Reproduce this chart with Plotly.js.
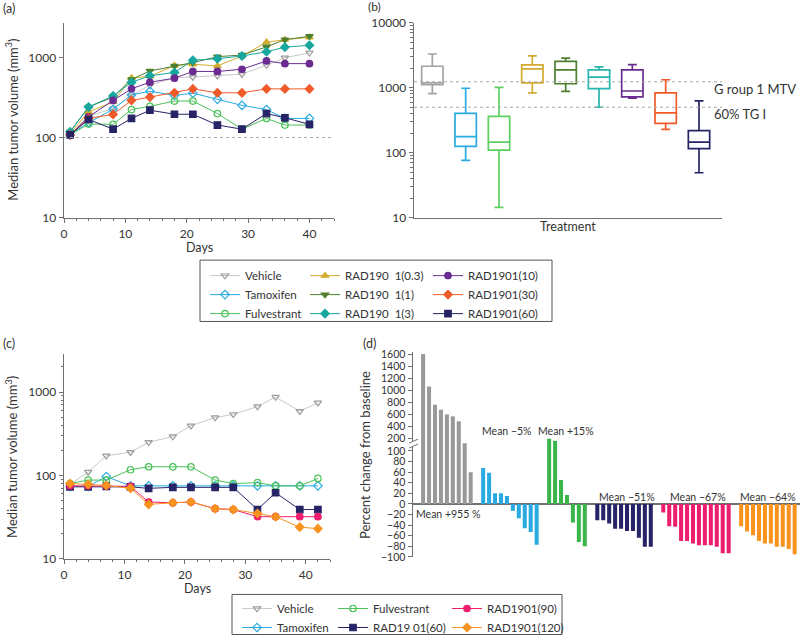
<!DOCTYPE html>
<html><head><meta charset="utf-8">
<script src="https://cdn.plot.ly/plotly-3.0.1.min.js"></script>
<style>html,body{margin:0;padding:0;background:#fff}#chart{width:800px;height:642px}</style>
</head><body><div id="chart"></div>
<script>
// ---------- Panel (a): median tumor volume ----------
const daysA = [1,4,8,11,14,18,21,25,29,33,36,40];
const vehicleA     = [108,186,229,335,450,555,570,590,617,800,990,1140];
const tamoxifenA   = [108,153,225,340,378,335,357,299,252,223,173,173];
const fulvestrantA = [108,147,146,223,245,285,285,199,127,173,143,143];
const rad03A = [112,209,277,552,580,790,820,782,1040,1545,1664,1780];
const rad1A  = [118,240,320,530,677,782,860,1020,1068,1353,1664,1829];
const rad3A  = [118,240,330,488,589,647,920,960,1040,1175,1340,1415];
const rad10A = [108,181,290,405,489,550,667,667,711,902,835,835];
const rad30A = [108,173,194,290,319,361,404,361,361,404,404,404];
const rad60A = [108,168,127,173,219,195,195,143,127,199,176,146];
const namesA = ['Vehicle','Tamoxifen','Fulvestrant','RAD190\u00a0 1(0.3)','RAD190\u00a0 1(1)','RAD190\u00a0 1(3)','RAD1901(10)','RAD1901(30)','RAD1901(60)'];
const baselineA = 100;
const logTicks = [10,100,1000];

// ---------- Panel (b): box plots ----------
const boxLabels = ['Vehicle','Tamoxifen','Fulvestrant','RAD1901(0.3)','RAD1901(1)','RAD1901(3)','RAD1901(10)','RAD1901(30)','RAD1901(60)'];
const boxUpper  = [3300,980,1010,3100,2860,2090,2265,1325,627];
const boxQ3     = [2140,402,361,2240,2550,1880,1880,830,219];
const boxMedian = [1190,177,145,1945,1880,1450,889,411,145];
const boxQ1     = [1110,125,109,1190,1150,965,721,283,115];
const boxLower  = [811,76,14.4,830,880,500,689,229,49];
const refLineValues = [1233, 500];
const refLineLabels = ['G roup 1 MTV', '60% TG I'];
const boxTicks = [10,100,1000,10000];

// ---------- Panel (c): median tumor volume ----------
const daysC = [1,4,7,11,14,18,21,25,28,32,35,39,42];
const vehicleC     = [78,110,172,190,250,293,395,495,540,670,870,590,745];
const tamoxifenC   = [74,74,97,75,75,75,75,75,75,75,75,75,75];
const fulvestrantC = [80,88,88,117,127,127,127,88,80,82,75,75,92];
const rad60C  = [73,73,74,73,70,72,72,72,72,39,62,39,39];
const rad90C  = [75,75,75,74,48,47,48,40,39,32,32,32,32];
const rad120C = [80,78,76,70,45,47,48,40,39,35,32,24,23];
const namesC = ['Vehicle','Tamoxifen','Fulvestrant','RAD19 01(60)','RAD1901(90)','RAD1901(120)'];

// ---------- Panel (d): waterfall (percent change from baseline) ----------
const wfVehicle     = [1600,1060,755,673,595,562,480,115,60];
const wfTamoxifen   = [68,59,20,20,15,-13,-27,-46,-53,-77];
const wfFulvestrant = [190,155,45,17,-35,-72,-80];
const wfRad60       = [-31,-31,-37,-47,-47,-51,-51,-64,-81,-81];
const wfRad90       = [-16,-42,-43,-70,-70,-75,-78,-78,-78,-81,-93,-93];
const wfRad120      = [-42,-52,-59,-70,-75,-75,-81,-81,-85,-95];
const wfMeans = ['Mean +955 %','Mean \u22125%','Mean +15%','Mean \u221251%','Mean \u221267%','Mean \u221264%'];

// ---------- helpers (layout only) ----------
const W = 800, H = 642;
const px = v => v / W;
const py = v => 1 - v / H;
const FONT = 'Lato, "Open Sans", sans-serif';
const AX = '#707070';
const TXT = '#333333';

// minor log tick positions (2..9 within each decade)
const minorLog = [];
[10,100,1000].forEach(d => { for (let k = 2; k <= 9; k++) minorLog.push(d * k); });

const colA = ['#9d9d9d','#29abe2','#4cc25a','#d4ab2c','#4d7f2e','#17a79e','#6a2c91','#f15a29','#262466'];
const symA = ['triangle-down-open','diamond-open','circle-open','triangle-up','triangle-down','diamond','circle','diamond','square'];
const lineA = ['#c8c8c8','#29abe2','#4cc25a','#d4ab2c','#4d7f2e','#17a79e','#6a2c91','#f15a29','#262466'];
const dataA = [vehicleA,tamoxifenA,fulvestrantA,rad03A,rad1A,rad3A,rad10A,rad30A,rad60A];
const legA = ['legend','legend','legend','legend2','legend2','legend2','legend3','legend3','legend3'];

const traces = [];
dataA.forEach((ys, i) => {
  traces.push({
    type:'scatter', mode:'lines+markers', x: daysA, y: ys, name: namesA[i],
    xaxis:'x', yaxis:'y', legend: legA[i],
    line:{color: lineA[i], width:1},
    marker:{symbol: symA[i], size: 6.5, color: colA[i], line:{color: colA[i], width: 1.2}},
    hoverinfo:'skip'
  });
});

// Boxes
const boxCol = ['#a3a3a3','#29abe2','#5ccf5e','#d4ab2c','#4d7f2e','#26b5b0','#6a2c91','#f15a29','#262466'];
boxLabels.forEach((lab, i) => {
  traces.push({
    type:'box', name: lab, x:[i], q1:[boxQ1[i]], median:[boxMedian[i]], q3:[boxQ3[i]],
    lowerfence:[boxLower[i]], upperfence:[boxUpper[i]],
    xaxis:'x2', yaxis:'y2', showlegend:false, boxpoints:false,
    width:0.64, whiskerwidth:0.42,
    line:{color: boxCol[i], width:1.7}, fillcolor:'rgba(255,255,255,0)', hoverinfo:'skip'
  });
});

// Panel (c)
const colC = ['#9d9d9d','#29abe2','#4cc25a','#262466','#ee1f6c','#f7931e'];
const lineC = ['#c8c8c8','#29abe2','#4cc25a','#262466','#ee1f6c','#f7931e'];
const symC = ['triangle-down-open','diamond-open','circle-open','square','circle','diamond'];
const dataC = [vehicleC,tamoxifenC,fulvestrantC,rad60C,rad90C,rad120C];
const legC = ['legend4','legend4','legend5','legend5','legend6','legend6'];
dataC.forEach((ys, i) => {
  traces.push({
    type:'scatter', mode:'lines+markers', x: daysC, y: ys, name: namesC[i],
    xaxis:'x3', yaxis:'y3', legend: legC[i],
    line:{color: lineC[i], width:1},
    marker:{symbol: symC[i], size: 6.5, color: colC[i], line:{color: colC[i], width: 1.2}},
    hoverinfo:'skip'
  });
});

// Panel (d) waterfall bars: lower segment (y4) and upper segment (y5) share the same values
const wfGroups = [wfVehicle, wfTamoxifen, wfFulvestrant, wfRad60, wfRad90, wfRad120];
const wfCol = ['#999999','#29abe2','#39b54a','#262466','#ec1f6f','#f7931e'];
const groupGap = 2.1;
let start = 0;
wfGroups.forEach((vals, g) => {
  const xs = vals.map((_, k) => start + k);
  ['y4','y5'].forEach(ya => {
    traces.push({
      type:'bar', x: xs, y: vals, xaxis:'x4', yaxis: ya, showlegend:false,
      width:0.68, marker:{color: wfCol[g], line:{width:0}}, hoverinfo:'skip'
    });
  });
  start += vals.length - 1 + groupGap;
});

const axisCommon = {
  showline:true, linecolor:AX, linewidth:1.5, ticks:'outside', ticklen:4, tickwidth:1,
  tickcolor:AX, showgrid:false, zeroline:false, tickfont:{family:FONT, size:12, color:TXT},
  fixedrange:true
};

const legendBase = (xpx, ypx) => ({
  x: px(xpx), y: py(ypx), xanchor:'left', yanchor:'top', orientation:'v',
  bgcolor:'rgba(0,0,0,0)', borderwidth:0, tracegroupgap:0,
  font:{family:FONT, size:11.5, color:TXT}, traceorder:'normal'
});

const ann = (text, xpx, ypx, opts={}) => Object.assign({
  text, x: px(xpx), y: py(ypx), xref:'paper', yref:'paper', showarrow:false,
  font:{family:FONT, size:12, color:TXT}, xanchor:'center', yanchor:'middle'
}, opts);
const f = s => ({family:FONT, size:s, color:TXT});

const annotations = [
  ann('(a)', 9, 9, {font:f(12.5)}),
  ann('(b)', 374, 7, {font:f(12)}),
  ann('(c)', 9, 347, {font:f(12.5)}),
  ann('(d)', 369, 347, {font:f(12.5)}),
  ann('Median tumor volume (mm<sup>3</sup>)', 12, 121, {textangle:-90, font:f(13)}),
  ann('Days', 199, 250, {font:f(12.5)}),
  ann('Treatment', 568, 229, {font:f(12.5)}),
  ann(refLineLabels[0], 712, 90, {xanchor:'left', font:f(13)}),
  ann(refLineLabels[1], 712, 115, {xanchor:'left', font:f(13)}),
  ann('Median tumor volume (mm<sup>3</sup>)', 12, 462, {textangle:-90, font:f(13)}),
  ann('Days', 197, 595, {font:f(12.5)}),
  ann('Percent change from baseline', 365, 460, {textangle:-90, font:f(13)}),
  ann(wfMeans[0], 448, 520, {font:f(10.5)}),
  ann(wfMeans[1], 507, 436, {font:f(10.5)}),
  ann(wfMeans[2], 566, 436, {font:f(10.5)}),
  ann(wfMeans[3], 627, 502, {font:f(10.5)}),
  ann(wfMeans[4], 698, 502, {font:f(10.5)}),
  ann(wfMeans[5], 768, 502, {font:f(10.5)})
];

const shapes = [
  {type:'line', xref:'x domain', yref:'y', x0:0, x1:1, y0:baselineA, y1:baselineA,
   line:{color:'#aaaaaa', width:1, dash:'dot'}},
  ...refLineValues.map(v => ({type:'line', xref:'x2 domain', yref:'y2', x0:0, x1:1, y0:v, y1:v,
   line:{color:'#aaaaaa', width:1, dash:'dot'}})),
  // legend frames
  {type:'rect', xref:'paper', yref:'paper', x0:px(200), x1:px(552), y0:py(263), y1:py(325),
   line:{color:'#555555', width:1}, fillcolor:'rgba(0,0,0,0)'},
  {type:'rect', xref:'paper', yref:'paper', x0:px(232), x1:px(562), y0:py(601), y1:py(641.5),
   line:{color:'#555555', width:1}, fillcolor:'rgba(0,0,0,0)'},
  // axis break marks on panel (d)
  {type:'rect', xref:'paper', yref:'paper', x0:px(408), x1:px(419), y0:py(451), y1:py(446),
   line:{width:0}, fillcolor:'#ffffff', layer:'above'},
  {type:'line', xref:'paper', yref:'paper', x0:px(409), x1:px(418), y0:py(448), y1:py(444),
   line:{color:AX, width:1}, layer:'above'},
  {type:'line', xref:'paper', yref:'paper', x0:px(409), x1:px(418), y0:py(453), y1:py(449),
   line:{color:AX, width:1}, layer:'above'}
];

const layout = {
  width:W, height:H, autosize:false,
  margin:{l:0, r:0, t:0, b:0, pad:0},
  paper_bgcolor:'#ffffff', plot_bgcolor:'rgba(0,0,0,0)',
  font:{family:FONT, color:TXT},
  showlegend:true, hovermode:false, boxmode:'overlay', barmode:'overlay',
  xaxis: Object.assign({}, axisCommon, {domain:[px(64), px(334)], anchor:'y', range:[0,44],
    tickmode:'linear', tick0:0, dtick:10,
    minor:{ticks:'outside', ticklen:2, dtick:2, tick0:0, tickcolor:AX}}),
  yaxis: Object.assign({}, axisCommon, {domain:[py(220), py(23)], anchor:'x', type:'log',
    range:[1, 3.432], tickvals:logTicks, ticktext:logTicks.map(String)}),
  xaxis2: Object.assign({}, axisCommon, {domain:[px(414), px(722)], anchor:'y2', range:[-0.55, 8.69],
    showticklabels:false, ticks:''}),
  yaxis2: Object.assign({}, axisCommon, {domain:[py(220), py(23)], anchor:'x2', type:'log',
    range:[1, 4], tickvals:boxTicks, ticktext:boxTicks.map(String),
    minor:{ticks:'outside', ticklen:2.5, tickvals:minorLog, tickcolor:AX}}),
  xaxis3: Object.assign({}, axisCommon, {domain:[px(64), px(330)], anchor:'y3', range:[0,44],
    tickmode:'linear', tick0:0, dtick:10,
    minor:{ticks:'outside', ticklen:2, dtick:2, tick0:0, tickcolor:AX}}),
  yaxis3: Object.assign({}, axisCommon, {domain:[py(565), py(358)], anchor:'x3', type:'log',
    range:[1, 3.455], tickvals:logTicks, ticktext:logTicks.map(String),
    minor:{ticks:'outside', ticklen:2, tickvals:minorLog, tickcolor:AX}}),
  xaxis4: {domain:[px(413), 1], anchor:'y4', range:[-1.7, 63.4], showline:false, showticklabels:false,
    ticks:'', showgrid:false, zeroline:false, fixedrange:true},
  yaxis4: Object.assign({}, axisCommon, {domain:[py(563), py(449)], anchor:'x4', range:[-100, 113],
    tickmode:'linear', tick0:-100, dtick:20, zeroline:true, zerolinecolor:AX, zerolinewidth:1.5,
    tickfont:f(10.5)}),
  yaxis5: Object.assign({}, axisCommon, {domain:[py(449), py(356)], anchor:'x4', range:[100, 1633],
    tickmode:'linear', tick0:200, dtick:200, tickfont:f(10.5)}),
  legend:  legendBase(205, 264),
  legend2: legendBase(305, 264),
  legend3: legendBase(428, 264),
  legend4: legendBase(237, 601),
  legend5: legendBase(333, 601),
  legend6: legendBase(447, 601),
  annotations, shapes
};

Plotly.newPlot('chart', traces, layout, {staticPlot:true, displayModeBar:false});
</script>
</body></html>
